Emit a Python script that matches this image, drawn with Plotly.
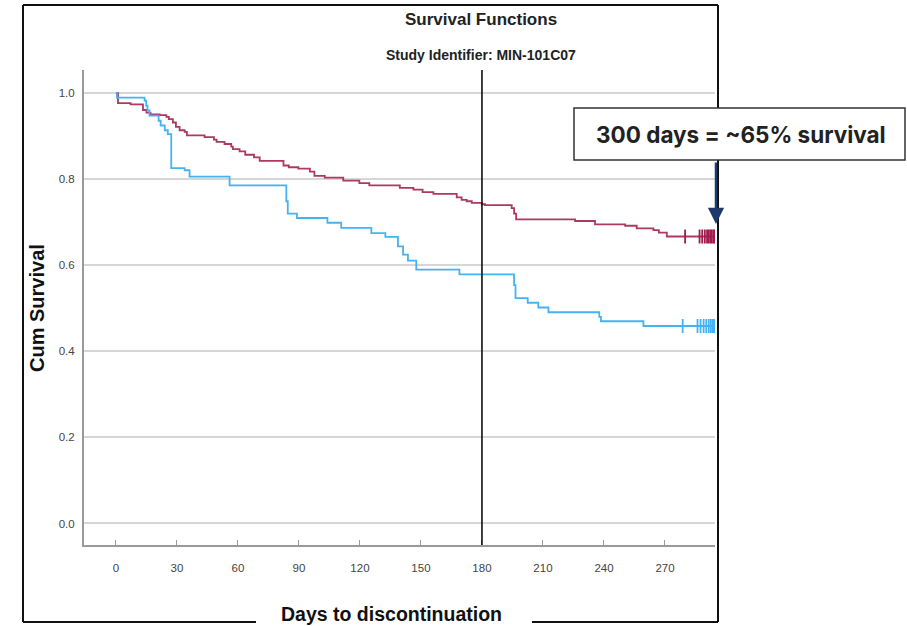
import plotly.graph_objects as go

# ---------------- data ----------------
red_times = [0, 1, 7.2, 13.3, 15, 17, 21.5, 24.8, 26, 28, 29.5, 31.3, 33.8, 34.9, 43.6, 48.2,
             49.5, 53.4, 56.7, 57.5, 60.8, 63.6, 67.9, 70.7, 82.4, 85, 89.7, 95.4, 97.6, 102.7,
             111.8, 119.7, 124.6, 139.6, 146.3, 150.8, 156.1, 167.6, 170, 172.5, 175, 179.9,
             181.5, 194.6, 195.8, 196.8, 225.8, 235.6, 250.4, 256.1, 264.3, 267, 270.9, 294.6]
red_surv = [1.0, 0.977, 0.974, 0.961, 0.955, 0.951, 0.949, 0.945, 0.940, 0.932, 0.922, 0.914,
            0.910, 0.902, 0.898, 0.892, 0.887, 0.882, 0.876, 0.870, 0.865, 0.857, 0.851, 0.843,
            0.832, 0.828, 0.825, 0.818, 0.808, 0.804, 0.797, 0.791, 0.786, 0.780, 0.776, 0.770,
            0.766, 0.758, 0.752, 0.749, 0.745, 0.742, 0.740, 0.733, 0.720, 0.707, 0.703, 0.695,
            0.692, 0.686, 0.682, 0.676, 0.667, 0.667]
red_censor = [279.9, 287.0, 288.3, 289.6, 290.7, 291.5, 292.3, 293.0, 293.8, 294.4]
red_censor_surv = 0.667

blue_times = [0, 0.5, 14.1, 14.9, 15.5, 16.5, 21, 22, 24, 25.5, 27.2, 33.8, 36.2, 55.9, 83.8,
              84.5, 89, 104, 110.8, 125.6, 132.5, 138.7, 141.2, 143.6, 147.7, 168.9, 195.8,
              196.5, 202.5, 207.7, 212.7, 237.7, 238.5, 259.4, 294.6]
blue_surv = [1.0, 0.990, 0.983, 0.971, 0.960, 0.948, 0.936, 0.925, 0.914, 0.905, 0.826, 0.821,
             0.806, 0.786, 0.749, 0.720, 0.710, 0.699, 0.687, 0.675, 0.666, 0.644, 0.625, 0.611,
             0.590, 0.579, 0.554, 0.524, 0.513, 0.502, 0.491, 0.480, 0.470, 0.459, 0.459]
blue_censor = [278.7, 286.0, 287.5, 289.0, 290.3, 291.5, 292.5, 293.3, 294.0, 294.4]
blue_censor_surv = 0.459

x_ticks = [0, 30, 60, 90, 120, 150, 180, 210, 240, 270]
y_ticks = [0.0, 0.2, 0.4, 0.6, 0.8, 1.0]
ref_day = 180

title = "Survival Functions"
subtitle = "Study Identifier: MIN-101C07"
x_title = "Days to discontinuation"
y_title = "Cum Survival"
callout = "300 days = ~65% survival"

# ---------------- styling ----------------
RED = "#ad3862"
RED_DARK = "#a01a50"
BLUE = "#45b2f2"
NAVY = "#1d3a6b"
SANS = "Liberation Sans, Arial, sans-serif"

W, H = 907, 626
L, R, T, B = 84, 715, 70, 545   # plot area in pixels


def px(x):
    return (x - L) / (R - L)


def py(y):
    return (B - y) / (B - T)


fig = go.Figure()
fig.add_trace(go.Scatter(x=red_times, y=red_surv, mode="lines", line=dict(color=RED, width=1.8, shape="hv"),
                         hoverinfo="skip"))
fig.add_trace(go.Scatter(x=blue_times, y=blue_surv, mode="lines", line=dict(color=BLUE, width=1.8, shape="hv"),
                         hoverinfo="skip"))
fig.add_trace(go.Scatter(x=red_censor, y=[red_censor_surv] * len(red_censor), mode="markers",
                         marker=dict(symbol="line-ns-open", size=10, color=RED_DARK,
                                     line=dict(color=RED_DARK, width=1.8)),
                         hoverinfo="skip"))
fig.add_trace(go.Scatter(x=blue_censor, y=[blue_censor_surv] * len(blue_censor), mode="markers",
                         marker=dict(symbol="line-ns-open", size=10, color=BLUE,
                                     line=dict(color=BLUE, width=1.8)),
                         hoverinfo="skip"))

fig.update_layout(
    width=W, height=H,
    margin=dict(l=L, r=W - R, t=T, b=H - B, pad=0),
    paper_bgcolor="white", plot_bgcolor="white",
    showlegend=False,
    font=dict(family=SANS, size=12, color="#444"),
)
fig.update_xaxes(range=[-15.7, 294.6], tickvals=x_ticks, ticktext=[str(v) for v in x_ticks],
                 showgrid=False, zeroline=False, showline=True, linecolor="#9a9a9a", linewidth=2,
                 ticks="inside", ticklen=5, tickcolor="#9a9a9a", tickwidth=1,
                 ticklabelstandoff=11, tickfont=dict(family=SANS, size=11.5, color="#444"))
fig.update_yaxes(range=[-0.05, 1.054], tickvals=y_ticks, ticktext=[f"{v:.1f}" for v in y_ticks],
                 showgrid=True, gridcolor="#d6d6d6", gridwidth=2, zeroline=False,
                 showline=True, linecolor="#9a9a9a", linewidth=2, ticks="",
                 ticklabelstandoff=5, tickfont=dict(family=SANS, size=11.5, color="#444"))

shapes = []
# reference line at 180 days
shapes.append(dict(type="line", xref="x", yref="paper", x0=ref_day, x1=ref_day, y0=0, y1=1,
                   line=dict(color="black", width=1.5), layer="above"))
# outer frame
fl, ft, fr, fb = 23, 5, 718, 622
for (x0, y0, x1, y1) in [(fl, ft, fr, ft), (fl, ft, fl, fb), (fr, ft, fr, fb), (fl, fb, 256, fb), (532, fb, fr, fb)]:
    shapes.append(dict(type="line", xref="paper", yref="paper", x0=px(x0), y0=py(y0), x1=px(x1), y1=py(y1),
                       line=dict(color="#111", width=2)))
# callout box
shapes.append(dict(type="rect", xref="paper", yref="paper", x0=px(574), x1=px(905), y0=py(108), y1=py(160),
                   line=dict(color="#333", width=1.5), fillcolor="white", layer="above"))
fig.update_layout(shapes=shapes)

ann = []
ann.append(dict(text=f"<b>{title}</b>", xref="paper", yref="paper", x=px(481), y=py(19), showarrow=False,
                xanchor="center", yanchor="middle", font=dict(family=SANS, size=17, color="#222")))
ann.append(dict(text=f"<b>{subtitle}</b>", xref="paper", yref="paper", x=px(481), y=py(55), showarrow=False,
                xanchor="center", yanchor="middle", font=dict(family=SANS, size=14, color="#222")))
ann.append(dict(text=f"<b>{y_title}</b>", xref="paper", yref="paper", x=px(37), y=py(308), showarrow=False,
                textangle=-90, xanchor="center", yanchor="middle", font=dict(family=SANS, size=20, color="#111")))
ann.append(dict(text=f"<b>{x_title}</b>", xref="paper", yref="paper", x=px(391), y=py(614), showarrow=False,
                xanchor="center", yanchor="middle", font=dict(family=SANS, size=19.5, color="#111")))
ann.append(dict(text=f"<b>{callout}</b>", xref="paper", yref="paper", x=px(741), y=py(134), showarrow=False,
                xanchor="center", yanchor="middle", font=dict(family="Inter, Roboto, sans-serif", size=22.5, color="#222")))
ann.append(dict(text="", xref="paper", yref="paper", x=px(716), y=py(224), showarrow=True,
                ax=0, ay=-63, arrowhead=2, arrowsize=1.3, arrowwidth=2.5, arrowcolor=NAVY, standoff=0))
fig.update_layout(annotations=ann)

fig.write_html("out.html")
